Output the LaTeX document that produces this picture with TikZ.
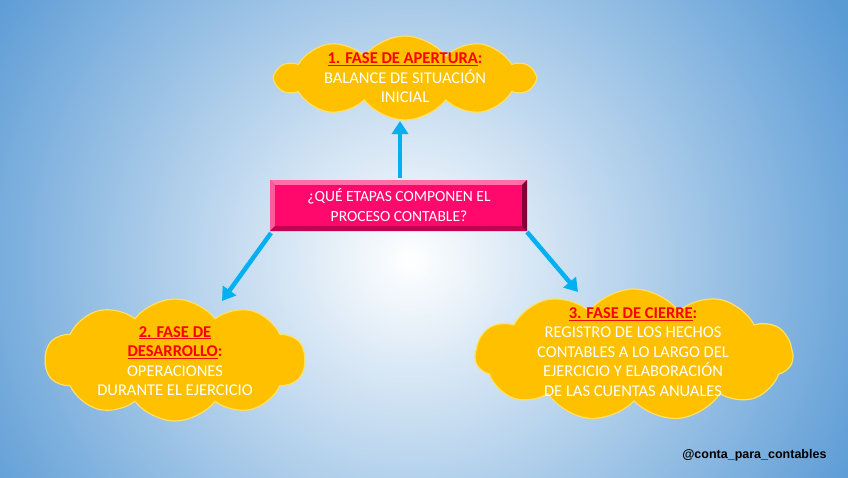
\documentclass[tikz,border=0pt]{standalone}
\usepackage{fontspec}
\setmainfont{Carlito}
\newfontfamily\wmfont{Liberation Sans}
\usetikzlibrary{shapes.symbols,arrows.meta}
\definecolor{bgblue}{HTML}{5B9BD5}
\definecolor{cloudfill}{HTML}{FFC000}
\definecolor{cloudedge}{HTML}{FFE066}
\definecolor{pinkmain}{HTML}{FF0A6C}
\definecolor{pinklight}{HTML}{FF6FA6}
\definecolor{pinkdark}{HTML}{B8004C}
\definecolor{arrowblue}{HTML}{00B0F0}
\definecolor{hdred}{HTML}{FF0000}
\tikzset{
  cloudbox/.style={cloud, cloud puffs=10, cloud puff arc=105, cloud ignores aspect, fill=cloudfill, draw=cloudedge, line width=1.2pt, inner sep=0pt},
  cloudtext/.style={align=center, text=white, font=\fontsize{16.5}{19.5}\selectfont},
  conn/.style={draw=arrowblue, line width=4.5pt, -{Triangle[length=13pt,width=16pt]}},
}
\newcommand{\hdr}[1]{\textcolor{hdred}{\textbf{\underline{#1}}}}
\begin{document}
\begin{tikzpicture}[x=1pt,y=-1pt]
\useasboundingbox (0,0) rectangle (848,477);
\clip (0,0) rectangle (848,477);
\shade[inner color=white, outer color=bgblue] (-90,-220) rectangle (910,740);
% clouds
\node[cloudbox, minimum width=258pt, minimum height=84pt] (c1) at (405,78) {};
\node[cloudbox, minimum width=260pt, minimum height=122pt] (c2) at (175,360) {};
\node[cloudbox, cloud puffs=11, minimum width=318pt, minimum height=132pt] (c3) at (634,355) {};
\node[cloudtext] (t1) at (405,78) {\hdr{1. FASE DE APERTURA}\textcolor{hdred}{\textbf{:}}\\BALANCE DE SITUACIÓN\\INICIAL};
\node[cloudtext] (t2) at (175,361) {\hdr{2. FASE DE}\\\hdr{DESARROLLO}\textcolor{hdred}{\textbf{:}}\\OPERACIONES\\DURANTE EL EJERCICIO};
\node[cloudtext] (t3) at (633,352) {\hdr{3. FASE DE CIERRE}\textcolor{hdred}{\textbf{:}}\\REGISTRO DE LOS HECHOS\\CONTABLES A LO LARGO DEL\\EJERCICIO Y ELABORACIÓN\\DE LAS CUENTAS ANUALES};
% central box with bevel
\fill[pinkdark] (270,180) rectangle (527,231);
\fill[pinklight] (270,180) -- (527,180) -- (522,185) -- (275,185) -- cycle;
\fill[pinklight!80!pinkmain] (270,180) -- (275,185) -- (275,226) -- (270,231) -- cycle;
\fill[pinkdark!85!pinkmain] (270,231) -- (275,226) -- (522,226) -- (527,231) -- cycle;
\fill[pinkdark!70!black] (527,180) -- (522,185) -- (522,226) -- (527,231) -- cycle;
\node[fill=pinkmain, minimum width=247pt, minimum height=41pt, inner sep=0pt, anchor=north west] (q) at (275,185) {};
\node[align=center, text=white, font=\fontsize{15.5}{19.5}\selectfont] (qt) at (399,205) {¿QUÉ ETAPAS COMPONEN EL\\PROCESO CONTABLE?};
% arrows
\coordinate (a1s) at (400,178);
\coordinate (a1e) at (400,121);
\coordinate (a2s) at (271,233);
\coordinate (a2e) at (222,301);
\coordinate (a3s) at (527,232);
\coordinate (a3e) at (578,292);
\draw[conn] (a1s) -- (a1e);
\draw[conn] (a2s) -- (a2e);
\draw[conn] (a3s) -- (a3e);
\node[anchor=east, font=\wmfont\bfseries\fontsize{12.5}{15}\selectfont] (wm) at (830,455) {@conta\_para\_contables};
\end{tikzpicture}
\end{document}
